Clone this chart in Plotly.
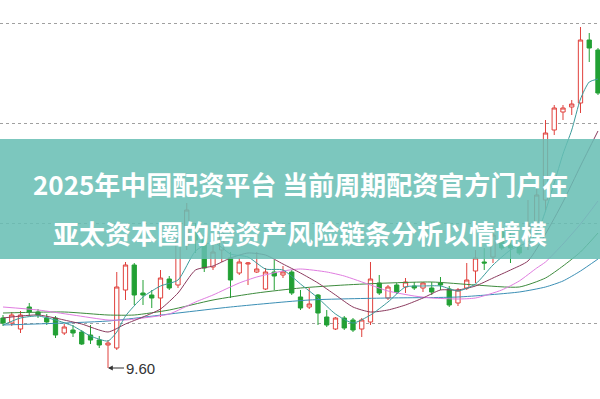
import plotly.graph_objects as go

idx = list(range(69))
opens = [10.10,10.05,9.99,10.21,10.16,10.10,10.10,9.95,9.98,9.96,9.93,9.88,9.83,9.80,10.38,10.63,10.35,10.33,10.30,10.49,
         10.43,10.83,10.98,10.88,10.61,10.78,10.70,10.55,10.64,10.56,10.39,10.56,10.53,10.56,10.31,10.21,10.33,10.11,9.99,10.10,
         10.08,9.99,10.06,10.45,10.30,10.43,10.41,10.42,10.40,10.40,10.45,10.39,10.25,10.40,10.57,10.66,10.71,10.96,10.83,10.81,
         10.83,11.01,11.28,11.98,12.16,12.21,12.25,12.88,12.78]
closes = [10.05,10.13,10.13,10.16,10.13,10.06,9.93,10.01,9.95,9.84,9.88,9.83,9.85,10.41,10.63,10.33,10.33,10.30,10.50,10.40,
          10.88,11.18,10.88,10.60,10.76,10.98,10.48,10.66,10.65,10.59,10.56,10.52,10.56,10.35,10.20,10.24,10.15,10.03,10.10,10.00,
          9.98,10.08,10.49,10.35,10.41,10.36,10.46,10.40,10.45,10.36,10.43,10.23,10.38,10.48,10.70,10.65,10.93,10.80,10.80,10.75,
          11.03,11.33,11.95,12.20,12.20,12.24,12.88,12.80,12.35]
highs = [10.13,10.16,10.17,10.25,10.19,10.14,10.12,10.04,10.03,9.98,10.03,9.92,9.88,10.56,10.66,10.65,10.48,10.38,10.58,10.52,
         10.91,11.25,11.05,10.93,10.83,11.01,10.76,10.70,10.66,10.76,10.60,10.68,10.62,10.58,10.38,10.40,10.34,10.18,10.11,10.12,
         10.10,10.10,10.66,10.53,10.43,10.45,10.50,10.46,10.46,10.46,10.51,10.42,10.40,10.65,10.78,10.80,10.98,10.98,10.96,10.85,
         11.28,11.48,12.08,12.23,12.23,12.28,13.01,12.95,12.80]
lows = [10.02,10.02,9.95,10.12,10.10,10.03,9.90,9.93,9.91,9.83,9.84,9.80,9.60,9.78,10.28,10.23,10.23,10.20,10.11,10.38,
        10.40,10.78,10.75,10.56,10.58,10.66,10.30,10.53,10.43,10.55,10.38,10.38,10.50,10.33,10.18,10.19,10.03,10.01,9.98,9.98,
        9.96,9.91,10.03,10.33,10.28,10.34,10.35,10.38,10.36,10.33,10.38,10.21,10.22,10.38,10.45,10.58,10.65,10.78,10.65,10.73,
        10.78,10.96,11.18,11.93,12.08,12.13,12.15,12.66,12.33]

ma5_x = [0,2,4,6,8,10,12,13,14,16,18,20,22,24,26,28,30,32,34,36,38,40,42,44,46,48,50,52,54,56,58,60,61,62,63,64,65,66,67,68]
ma5_y = [10.03,10.10,10.12,10.08,10.02,9.92,9.87,9.96,10.12,10.31,10.42,10.48,10.77,10.86,10.74,10.71,10.59,10.58,10.44,10.30,
         10.14,10.05,10.13,10.26,10.41,10.42,10.42,10.37,10.44,10.63,10.78,10.86,10.94,11.17,11.45,11.74,11.98,12.29,12.46,12.49]
ma10_x = [0,4,8,9,12,14,16,18,20,22,24,26,28,30,32,34,36,38,40,42,44,46,48,50,52,54,56,58,60,62,64,66,68]
ma10_y = [10.10,10.13,10.06,10.04,9.96,10.04,10.11,10.19,10.35,10.58,10.62,10.70,10.75,10.73,10.64,10.55,10.45,10.33,10.21,10.16,
          10.18,10.23,10.30,10.38,10.38,10.42,10.50,10.58,10.67,10.94,11.26,11.62,11.97]
ma20_x = [0,4,8,12,14,16,19,22,24,27,29,32,34,37,39,42,44,47,49,52,54,57,59,61,62,64,66,68]
ma20_y = [10.21,10.18,10.13,10.08,10.08,10.10,10.14,10.26,10.33,10.45,10.51,10.57,10.59,10.56,10.52,10.43,10.37,10.32,10.30,10.29,
          10.30,10.38,10.47,10.60,10.66,10.84,11.04,11.27]
ma30_x = [0,7,12,15,19,24,29,34,39,44,49,54,59,62,64,66,68]
ma30_y = [10.15,10.16,10.13,10.13,10.18,10.28,10.35,10.40,10.43,10.45,10.46,10.43,10.41,10.50,10.62,10.76,10.95]
ma60_x = [0,12,20,26,35,44,52,59,62,64,66,68]
ma60_y = [10.03,10.07,10.15,10.21,10.28,10.30,10.31,10.36,10.41,10.47,10.57,10.69]

grid_vals = [10.05, 11.05, 12.05, 13.05]
low_label = "9.60"
title_line1 = "2025年中国配资平台 当前周期配资官方门户在"
title_line2 = "亚太资本圈的跨资产风险链条分析以情境模"

fig = go.Figure()
fig.add_trace(go.Candlestick(
    x=idx, open=opens, high=highs, low=lows, close=closes,
    increasing=dict(line=dict(color="#e0403c", width=1), fillcolor="white"),
    decreasing=dict(line=dict(color="#22a034", width=1), fillcolor="#22a034"),
    whiskerwidth=0, showlegend=False, hoverinfo="skip"))

for xs, ys, col in [(ma60_x, ma60_y, "#3b8fb5"), (ma30_x, ma30_y, "#3d8b3d"),
                    (ma20_x, ma20_y, "#e07ce0"), (ma10_x, ma10_y, "#8b3a5e"),
                    (ma5_x, ma5_y, "#3a9a9a")]:
    fig.add_trace(go.Scatter(x=xs, y=ys, mode="lines", line=dict(color=col, width=1, shape="spline", smoothing=0.6),
                             showlegend=False, hoverinfo="skip"))

fig.add_annotation(x=12, y=lows[12], text=low_label, showarrow=True, ax=32, ay=0,
                   arrowhead=2, arrowsize=0.8, arrowwidth=1.2, arrowcolor="#333",
                   font=dict(family="Liberation Sans, Arial", size=15, color="#333"))

fig.add_shape(type="rect", xref="paper", yref="paper", x0=0, x1=1, y0=1-259/399, y1=1-139/399,
              fillcolor="rgba(102,190,179,0.86)", line=dict(width=0), layer="above")

for txt, yy in [(title_line1, 1-183/399), (title_line2, 1-232/399)]:
    fig.add_annotation(x=0.5, y=yy, xref="paper", yref="paper", text="<b>" + txt + "</b>", showarrow=False,
                       font=dict(family="Noto Sans CJK SC", size=26, color="white"))

fig.update_layout(
    width=600, height=399, margin=dict(l=0, r=0, t=0, b=0),
    paper_bgcolor="white", plot_bgcolor="white",
    xaxis=dict(range=[-0.343, 68.23], showgrid=False, zeroline=False, showticklabels=False,
               rangeslider=dict(visible=False), fixedrange=True),
    yaxis=dict(range=[9.29, 13.28], tickvals=grid_vals, showticklabels=False, showgrid=True,
               gridcolor="#a0a0a0", griddash="dot", gridwidth=1, zeroline=False),
)
fig.write_html("out.html")
